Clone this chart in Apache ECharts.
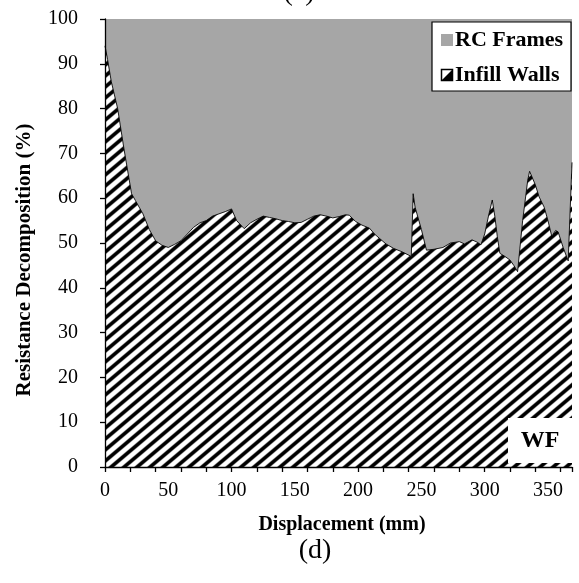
<!DOCTYPE html>
<html>
<head>
<meta charset="utf-8">
<script src="https://cdn.jsdelivr.net/npm/echarts@6/dist/echarts.min.js"></script>
<style>
  html, body { margin: 0; padding: 0; background: #ffffff; }
  #chart { width: 579px; height: 583px; }
</style>
</head>
<body>
<div id="chart"></div>
<script>
// Displacement (mm) and share of lateral resistance carried by the infill walls (%)
const displacement = [
  0, 2, 5, 10, 15, 21, 24, 30, 35, 40, 45, 50, 55, 60, 65, 70, 75, 80, 85, 90, 95, 100,
  104, 110, 115, 120, 125, 130, 135, 140, 145, 150, 155, 160, 165, 170, 175, 180, 185, 190,
  193, 198, 203, 209, 213, 217, 222, 228, 235, 242, 243.5, 245, 250, 254, 260, 267, 273, 280,
  284, 290, 294, 297, 300, 303, 306, 308, 310, 312, 316, 320, 323, 326, 330, 334, 335.5, 340,
  343, 347, 350, 353, 356, 358, 362, 366, 369
];
const infillWalls = [
  94, 91, 86, 80, 71, 61, 59.5, 56.5, 53, 50.5, 49.5, 49, 49.7, 50.5, 52, 53.5, 54.5, 55, 56, 56.5, 57, 57.6,
  55, 53.2, 54.5, 55.3, 56, 55.7, 55.4, 55, 54.8, 54.5, 54.6, 55.3, 56, 56.3, 56, 55.6, 55.9, 56.3,
  56.2, 54.8, 54, 53.3, 52, 51, 49.8, 48.8, 48, 47, 61, 58, 53, 48.4, 48.6, 49, 50, 50.3,
  49.8, 50.7, 50.2, 49.6, 52, 56, 59.6, 56, 51.4, 47.7, 47, 46.2, 45, 43.6, 55, 64, 66, 63,
  60.3, 58, 55, 51.5, 52.8, 52.5, 49, 46, 68
];

const yTicks = { min: 0, max: 100, step: 10 };
const xTicks = { min: 0, max: 369, tickStep: 20, labelStep: 50 };

const FONT = '"Liberation Serif", "Times New Roman", serif';

// Diagonal black/white hatch used for the infill-wall area
function makeHatch() {
  const W = 13, H = 11;
  const c = document.createElement('canvas');
  c.width = W; c.height = H;
  const ctx = c.getContext('2d');
  const img = ctx.createImageData(W, H);
  const S = 5;
  for (let y = 0; y < H; y++) {
    for (let x = 0; x < W; x++) {
      let dark = 0;
      for (let sy = 0; sy < S; sy++) {
        for (let sx = 0; sx < S; sx++) {
          const p = ((x + (sx + 0.5) / S) / W + (y + (sy + 0.5) / S) / H) % 1;
          const d = Math.min(p, 1 - p);
          dark += Math.max(0, Math.min(1, (0.22 - d) / 0.12 + 0.5));
        }
      }
      dark /= S * S;
      const v = Math.round(255 * (1 - dark));
      const i = (y * W + x) * 4;
      img.data[i] = v; img.data[i + 1] = v; img.data[i + 2] = v; img.data[i + 3] = 255;
    }
  }
  ctx.putImageData(img, 0, 0);
  return c;
}

const chart = echarts.init(document.getElementById('chart'), null, { renderer: 'canvas' });

// Boundary between the two shares: infill walls below it, RC frames above it up to 100 %
const boundary = displacement.map((d, i) => [d, infillWalls[i]]);

chart.setOption({
  animation: false,
  backgroundColor: '#ffffff',
  grid: { left: 105, right: 7, top: 19, bottom: 116, containLabel: false },
  xAxis: [
    {
      type: 'value', min: xTicks.min, max: xTicks.max, interval: xTicks.tickStep,
      z: 10,
      axisLine: { show: true, lineStyle: { color: '#000', width: 1.3 } },
      axisTick: { show: true, inside: false, length: 5, lineStyle: { color: '#000', width: 1.3 } },
      axisLabel: { show: false },
      splitLine: { show: false }
    },
    {
      type: 'value', min: xTicks.min, max: xTicks.max, interval: xTicks.labelStep,
      position: 'bottom', z: 10,
      axisLine: { show: false },
      axisTick: { show: false },
      axisLabel: {
        show: true, margin: 14, showMaxLabel: false,
        fontFamily: FONT, fontSize: 20, color: '#000'
      },
      splitLine: { show: false }
    }
  ],
  yAxis: {
    type: 'value', min: yTicks.min, max: yTicks.max, interval: yTicks.step,
    z: 10,
    axisLine: { show: true, lineStyle: { color: '#000', width: 1.3 } },
    axisTick: { show: true, inside: false, length: 5, lineStyle: { color: '#000', width: 1.3 } },
    axisLabel: { margin: 27, fontFamily: FONT, fontSize: 20, color: '#000' },
    splitLine: { show: false }
  },
  series: [
    {
      // RC frames: from the boundary up to the 100 % line
      name: 'RC Frames', type: 'line', xAxisIndex: 0,
      data: boundary, symbol: 'none', z: 2,
      lineStyle: { width: 0, color: '#a6a6a6' },
      areaStyle: { color: '#a6a6a6', opacity: 1, origin: 'end' }
    },
    {
      // Infill walls: from 0 up to the boundary
      name: 'Infill Walls', type: 'line', xAxisIndex: 0,
      data: boundary, symbol: 'none', z: 3,
      lineStyle: { color: '#000', width: 0.9 },
      areaStyle: { color: { image: makeHatch(), repeat: 'repeat' }, opacity: 1, origin: 'start' }
    }
  ],
  graphic: [
    // panel captions
    { type: 'text', x: 299, y: 7, z: 20,
      style: { text: '(c)', font: '28px ' + FONT, fill: '#000', textAlign: 'center', textVerticalAlign: 'bottom' } },
    { type: 'text', x: 315, y: 551, z: 20,
      style: { text: '(d)', font: '28px ' + FONT, fill: '#000', textAlign: 'center', textVerticalAlign: 'middle' } },
    // axis titles
    { type: 'text', x: 342, y: 525, z: 20,
      style: { text: 'Displacement (mm)', font: 'bold 20px ' + FONT, fill: '#000', textAlign: 'center', textVerticalAlign: 'middle' } },
    { type: 'text', x: 25, y: 260, rotation: Math.PI / 2, z: 20,
      style: { text: 'Resistance Decomposition (%)', font: 'bold 21px ' + FONT, fill: '#000', textAlign: 'center', textVerticalAlign: 'middle' } },
    // legend
    { type: 'rect', z: 20, shape: { x: 432, y: 22, width: 139, height: 69 },
      style: { fill: '#fff', stroke: '#000', lineWidth: 1.2 } },
    { type: 'rect', z: 21, shape: { x: 441, y: 34, width: 12, height: 12 },
      style: { fill: '#a6a6a6' } },
    { type: 'text', x: 455, y: 40, z: 21,
      style: { text: 'RC Frames', font: 'bold 22px ' + FONT, fill: '#000', textAlign: 'left', textVerticalAlign: 'middle' } },
    { type: 'rect', z: 21, shape: { x: 441.5, y: 69.5, width: 11, height: 11 },
      style: { fill: '#fff', stroke: '#000', lineWidth: 1.5 } },
    { type: 'polygon', z: 22, shape: { points: [[452.5, 69.5], [452.5, 80.5], [441.5, 80.5]] },
      style: { fill: '#000' } },
    { type: 'text', x: 455, y: 75, z: 21,
      style: { text: 'Infill Walls', font: 'bold 22px ' + FONT, fill: '#000', textAlign: 'left', textVerticalAlign: 'middle' } },
    // wall-frame label
    { type: 'rect', z: 20, shape: { x: 508, y: 418, width: 65, height: 45 },
      style: { fill: '#fff' } },
    { type: 'text', x: 540, y: 441, z: 21,
      style: { text: 'WF', font: 'bold 24px ' + FONT, fill: '#000', textAlign: 'center', textVerticalAlign: 'middle' } }
  ]
});
</script>
</body>
</html>
